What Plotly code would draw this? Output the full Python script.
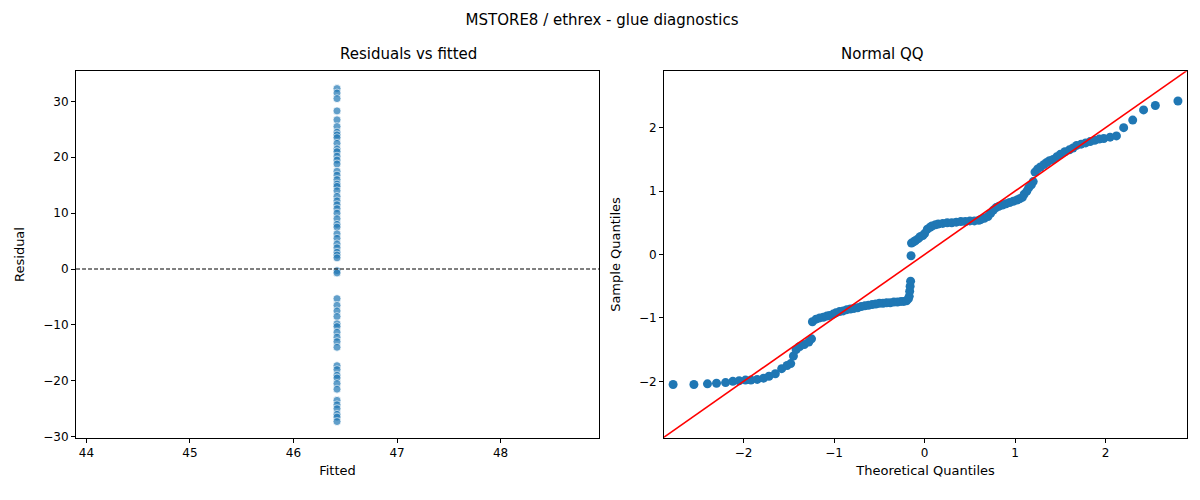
import plotly.graph_objects as go

title = "MSTORE8 / ethrex - glue diagnostics"

fitted_value = 46.42
residuals = [32.3, 31.5, 30.5, 28.3, 26.7, 25.5, 24.5, 24.0, 23.5, 22.5, 21.5, 21.0,
             20.2, 19.5, 18.8, 17.5, 16.8, 16.0, 15.2, 14.8, 14.0, 13.0, 12.2, 11.5,
             10.8, 10.0, 9.0, 8.0, 7.5, 6.3, 5.5, 4.5, 3.8, 3.0, 2.5, 2.0, -0.3, -0.7,
             -5.3, -6.5, -7.5, -8.5, -9.8, -10.3, -11.3, -12.2, -13.0, -14.0, -17.3,
             -18.0, -19.0, -19.5, -20.5, -21.5, -23.5, -24.3, -25.0, -26.0, -26.5, -27.3]
fitted = [fitted_value] * len(residuals)

theoretical = [-2.78, -2.55, -2.4, -2.3, -2.2, -2.12, -2.05, -1.98, -1.92, -1.85, -1.78,
               -1.72, -1.65, -1.58, -1.52, -1.48, -1.45, -1.42, -1.38, -1.33, -1.28, -1.25,
               -1.24, -1.2, -1.16, -1.12, -1.08, -1.05, -1.01, -0.98, -0.94, -0.9, -0.86,
               -0.82, -0.78, -0.74, -0.7, -0.66, -0.62, -0.58, -0.54, -0.5, -0.46, -0.42,
               -0.38, -0.34, -0.3, -0.26, -0.23, -0.2, -0.18, -0.17, -0.165, -0.16, -0.155,
               -0.15, -0.145, -0.12, -0.1, -0.07, -0.05, -0.02, 0.0, 0.03, 0.06, 0.08,
               0.12, 0.15, 0.2, 0.25, 0.3, 0.35, 0.4, 0.45, 0.5, 0.55, 0.6, 0.62, 0.66,
               0.7, 0.73, 0.76, 0.79, 0.82, 0.86, 0.9, 0.94, 0.98, 1.02, 1.05, 1.08, 1.1,
               1.13, 1.15, 1.18, 1.2, 1.22, 1.25, 1.28, 1.32, 1.35, 1.38, 1.42, 1.46, 1.5,
               1.55, 1.6, 1.64, 1.68, 1.73, 1.78, 1.83, 1.88, 1.93, 1.98, 2.05, 2.12, 2.2,
               2.3, 2.42, 2.55, 2.8]
sample = [-2.05, -2.05, -2.04, -2.03, -2.02, -2.0, -1.99, -1.98, -1.98, -1.97, -1.95,
          -1.92, -1.88, -1.8, -1.75, -1.72, -1.6, -1.5, -1.45, -1.42, -1.38, -1.33,
          -1.06, -1.02, -1.0, -0.99, -0.97, -0.96, -0.94, -0.92, -0.9, -0.89, -0.87,
          -0.86, -0.85, -0.84, -0.82, -0.81, -0.8, -0.79, -0.78, -0.77, -0.77, -0.76,
          -0.76, -0.75, -0.75, -0.74, -0.74, -0.73, -0.7, -0.66, -0.58, -0.5, -0.42,
          -0.02, 0.18, 0.2, 0.22, 0.25, 0.28, 0.3, 0.33, 0.4, 0.43, 0.45, 0.47, 0.48,
          0.49, 0.5, 0.5, 0.51, 0.52, 0.52, 0.53, 0.53, 0.54, 0.55, 0.57, 0.6, 0.65,
          0.7, 0.74, 0.76, 0.78, 0.8, 0.82, 0.84, 0.86, 0.88, 0.9, 0.95, 1.0, 1.05,
          1.1, 1.15, 1.3, 1.35, 1.38, 1.42, 1.45, 1.48, 1.5, 1.54, 1.58, 1.62, 1.65,
          1.68, 1.72, 1.74, 1.76, 1.78, 1.8, 1.82, 1.83, 1.85, 1.87, 2.0, 2.12, 2.28,
          2.35, 2.42]

blue = "#1f77b4"
fig = go.Figure()
fig.add_trace(go.Scatter(x=fitted, y=residuals, mode="markers", xaxis="x", yaxis="y",
                         marker=dict(color=blue, size=8, opacity=0.7,
                                     line=dict(color="white", width=0.8))))
fig.add_trace(go.Scatter(x=theoretical, y=sample, mode="markers", xaxis="x2", yaxis="y2",
                         marker=dict(color=blue, size=9)))
fig.add_trace(go.Scatter(x=[-3, 3], y=[-3, 3], mode="lines", xaxis="x2", yaxis="y2",
                         line=dict(color="red", width=1.6)))

ax = dict(showgrid=False, zeroline=False, showline=True, linecolor="black", mirror=True,
          ticks="outside", ticklen=4, tickcolor="black", title_font_size=13)
fig.update_layout(
    width=1200, height=500, showlegend=False, plot_bgcolor="white", paper_bgcolor="white",
    margin=dict(l=0, r=0, t=0, b=0),
    font=dict(family="DejaVu Sans", size=12, color="black"),
    title=dict(text=title, x=0.495, y=0.976, xanchor="center", yanchor="middle",
               font_size=15),
    xaxis=dict(ax, domain=[0.0567, 0.4925], range=[43.9, 48.95], dtick=1, title_text="Fitted",
               title_standoff=6),
    yaxis=dict(ax, domain=[0.13, 0.872], range=[-30.2, 35.4], dtick=10, title_text="Residual"),
    xaxis2=dict(ax, domain=[0.5467, 0.9825], range=[-2.88, 2.9], dtick=1,
                title_text="Theoretical Quantiles", anchor="y2", title_standoff=6),
    yaxis2=dict(ax, domain=[0.13, 0.872], range=[-2.89, 2.89], dtick=1,
                title_text="Sample Quantiles", anchor="x2"),
    shapes=[dict(type="line", xref="x domain", yref="y", x0=0, x1=1, y0=0, y1=0,
                 line=dict(color="black", width=1.1, dash="4px,2px"))],
    annotations=[
        dict(text="Residuals vs fitted", x=0.2746, y=0.885, xref="paper", yref="paper",
             showarrow=False, yanchor="bottom", font_size=15),
        dict(text="Normal QQ", x=0.7646, y=0.885, xref="paper", yref="paper",
             showarrow=False, yanchor="bottom", font_size=15),
    ],
)
fig.write_html("out.html")
